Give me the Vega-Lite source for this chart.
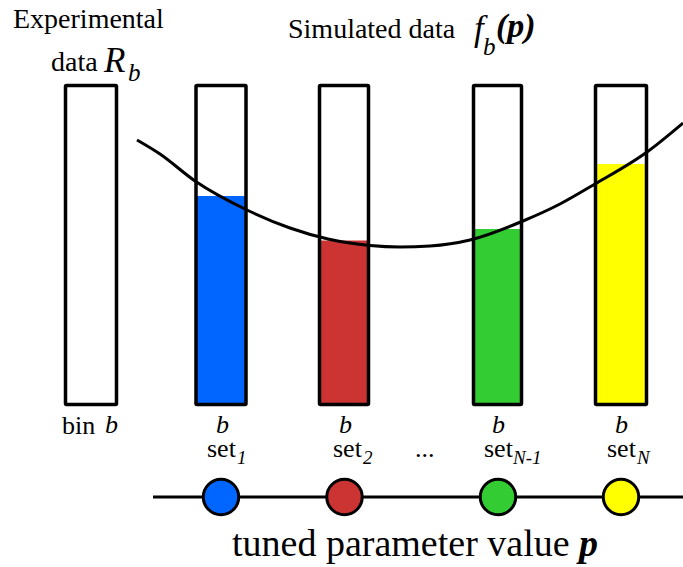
{
  "$schema": "https://vega.github.io/schema/vega-lite/v6.json",
  "width": 683,
  "height": 567,
  "autosize": {"type": "none"},
  "padding": 0,
  "background": "white",
  "config": {
    "font": "Liberation Serif",
    "view": {"stroke": null},
    "text": {"font": "Liberation Serif", "baseline": "alphabetic", "align": "left", "color": "black"}
  },
  "datasets": {
    "sims": [
      {"set": "1", "x": 196, "x2": 246, "y": 196, "y2": 404.5},
      {"set": "2", "x": 319.5, "x2": 368.5, "y": 240.5, "y2": 404.5},
      {"set": "N-1", "x": 473.5, "x2": 521.5, "y": 229, "y2": 404.5},
      {"set": "N", "x": 595.5, "x2": 646.5, "y": 164, "y2": 404.5}
    ],
    "bars": [
      {"bar": "exp", "x": 65.5, "x2": 116.5, "y": 85.5, "y2": 404.5},
      {"bar": "1", "x": 196, "x2": 246, "y": 85.5, "y2": 404.5},
      {"bar": "2", "x": 319.5, "x2": 368.5, "y": 85.5, "y2": 404.5},
      {"bar": "N-1", "x": 473.5, "x2": 521.5, "y": 85.5, "y2": 404.5},
      {"bar": "N", "x": 595.5, "x2": 646.5, "y": 85.5, "y2": 404.5}
    ],
    "curve": [
      {"x": 137, "y": 140}, {"x": 160, "y": 154}, {"x": 195, "y": 181},
      {"x": 247, "y": 210}, {"x": 290, "y": 228}, {"x": 328, "y": 239},
      {"x": 370, "y": 245.5}, {"x": 400, "y": 247}, {"x": 430, "y": 246},
      {"x": 470, "y": 240}, {"x": 523, "y": 221}, {"x": 560, "y": 204},
      {"x": 595, "y": 184}, {"x": 647, "y": 152}, {"x": 683, "y": 123}
    ],
    "axisline": [{"x": 153, "x2": 683, "y": 497}],
    "params": [
      {"set": "1", "x": 221, "y": 497},
      {"set": "2", "x": 344.5, "y": 497},
      {"set": "N-1", "x": 498, "y": 497},
      {"set": "N", "x": 621, "y": 497}
    ],
    "titles": [
      {"text": "Experimental", "x": 13, "y": 28},
      {"text": "data", "x": 51, "y": 71},
      {"text": "Simulated data", "x": 288, "y": 38}
    ],
    "bigItalic": [
      {"text": "R", "x": 104, "y": 72},
      {"text": "f", "x": 474, "y": 40}
    ],
    "subB": [
      {"text": "b", "x": 128, "y": 81},
      {"text": "b", "x": 483, "y": 55}
    ],
    "argP": [{"text": "(p)", "x": 496, "y": 37}],
    "labels": [
      {"text": "bin", "x": 62, "y": 434},
      {"text": "set", "x": 207, "y": 457},
      {"text": "set", "x": 333, "y": 457},
      {"text": "...", "x": 415, "y": 457},
      {"text": "set", "x": 484, "y": 457},
      {"text": "set", "x": 607, "y": 457}
    ],
    "binB": [
      {"text": "b", "x": 105, "y": 433},
      {"text": "b", "x": 216, "y": 433},
      {"text": "b", "x": 339, "y": 433},
      {"text": "b", "x": 492, "y": 433},
      {"text": "b", "x": 615, "y": 433}
    ],
    "subs": [
      {"text": "1", "x": 237, "y": 464},
      {"text": "2", "x": 363, "y": 464},
      {"text": "N-1", "x": 513, "y": 464},
      {"text": "N", "x": 637, "y": 464}
    ],
    "axisTitle": [{"text": "tuned parameter value", "x": 232, "y": 556}],
    "axisP": [{"text": "p", "x": 579, "y": 556}]
  },
  "encoding": {
    "x": {"field": "x", "type": "quantitative", "scale": {"domain": [0, 683], "nice": false, "zero": false}, "axis": null},
    "y": {"field": "y", "type": "quantitative", "scale": {"domain": [0, 567], "nice": false, "zero": false, "reverse": true}, "axis": null}
  },
  "layer": [
    {
      "data": {"name": "sims"},
      "mark": {"type": "rect"},
      "encoding": {
        "x2": {"field": "x2"},
        "y2": {"field": "y2"},
        "fill": {"field": "set", "type": "nominal", "scale": {"domain": ["1", "2", "N-1", "N"], "range": ["#0066FF", "#CC3333", "#33CC33", "#FFFF00"]}, "legend": null}
      }
    },
    {
      "data": {"name": "bars"},
      "mark": {"type": "rect", "fill": "white", "fillOpacity": 0, "stroke": "black", "strokeWidth": 3.5, "cornerRadius": 1},
      "encoding": {"x2": {"field": "x2"}, "y2": {"field": "y2"}}
    },
    {
      "data": {"name": "curve"},
      "mark": {"type": "line", "color": "black", "strokeWidth": 3, "interpolate": "monotone"},
      "encoding": {}
    },
    {
      "data": {"name": "axisline"},
      "mark": {"type": "rule", "color": "black", "strokeWidth": 3},
      "encoding": {"x2": {"field": "x2"}}
    },
    {
      "data": {"name": "params"},
      "mark": {"type": "point", "shape": "circle", "filled": true, "size": 1257, "stroke": "black", "strokeWidth": 3, "opacity": 1},
      "encoding": {
        "fill": {"field": "set", "type": "nominal", "legend": null}
      }
    },
    {
      "data": {"name": "titles"},
      "mark": {"type": "text", "font": "Liberation Serif", "fontSize": 28},
      "encoding": {"text": {"field": "text"}}
    },
    {
      "data": {"name": "bigItalic"},
      "mark": {"type": "text", "font": "Liberation Serif", "fontSize": 35, "fontStyle": "italic"},
      "encoding": {"text": {"field": "text"}}
    },
    {
      "data": {"name": "subB"},
      "mark": {"type": "text", "font": "Liberation Serif", "fontSize": 25, "fontStyle": "italic"},
      "encoding": {"text": {"field": "text"}}
    },
    {
      "data": {"name": "argP"},
      "mark": {"type": "text", "font": "Liberation Serif", "fontSize": 34, "fontStyle": "italic", "fontWeight": "bold"},
      "encoding": {"text": {"field": "text"}}
    },
    {
      "data": {"name": "labels"},
      "mark": {"type": "text", "font": "Liberation Serif", "fontSize": 26},
      "encoding": {"text": {"field": "text"}}
    },
    {
      "data": {"name": "binB"},
      "mark": {"type": "text", "font": "Liberation Serif", "fontSize": 26, "fontStyle": "italic"},
      "encoding": {"text": {"field": "text"}}
    },
    {
      "data": {"name": "subs"},
      "mark": {"type": "text", "font": "Liberation Serif", "fontSize": 19, "fontStyle": "italic"},
      "encoding": {"text": {"field": "text"}}
    },
    {
      "data": {"name": "axisTitle"},
      "mark": {"type": "text", "font": "Liberation Serif", "fontSize": 38},
      "encoding": {"text": {"field": "text"}}
    },
    {
      "data": {"name": "axisP"},
      "mark": {"type": "text", "font": "Liberation Serif", "fontSize": 38, "fontStyle": "italic", "fontWeight": "bold"},
      "encoding": {"text": {"field": "text"}}
    }
  ]
}
